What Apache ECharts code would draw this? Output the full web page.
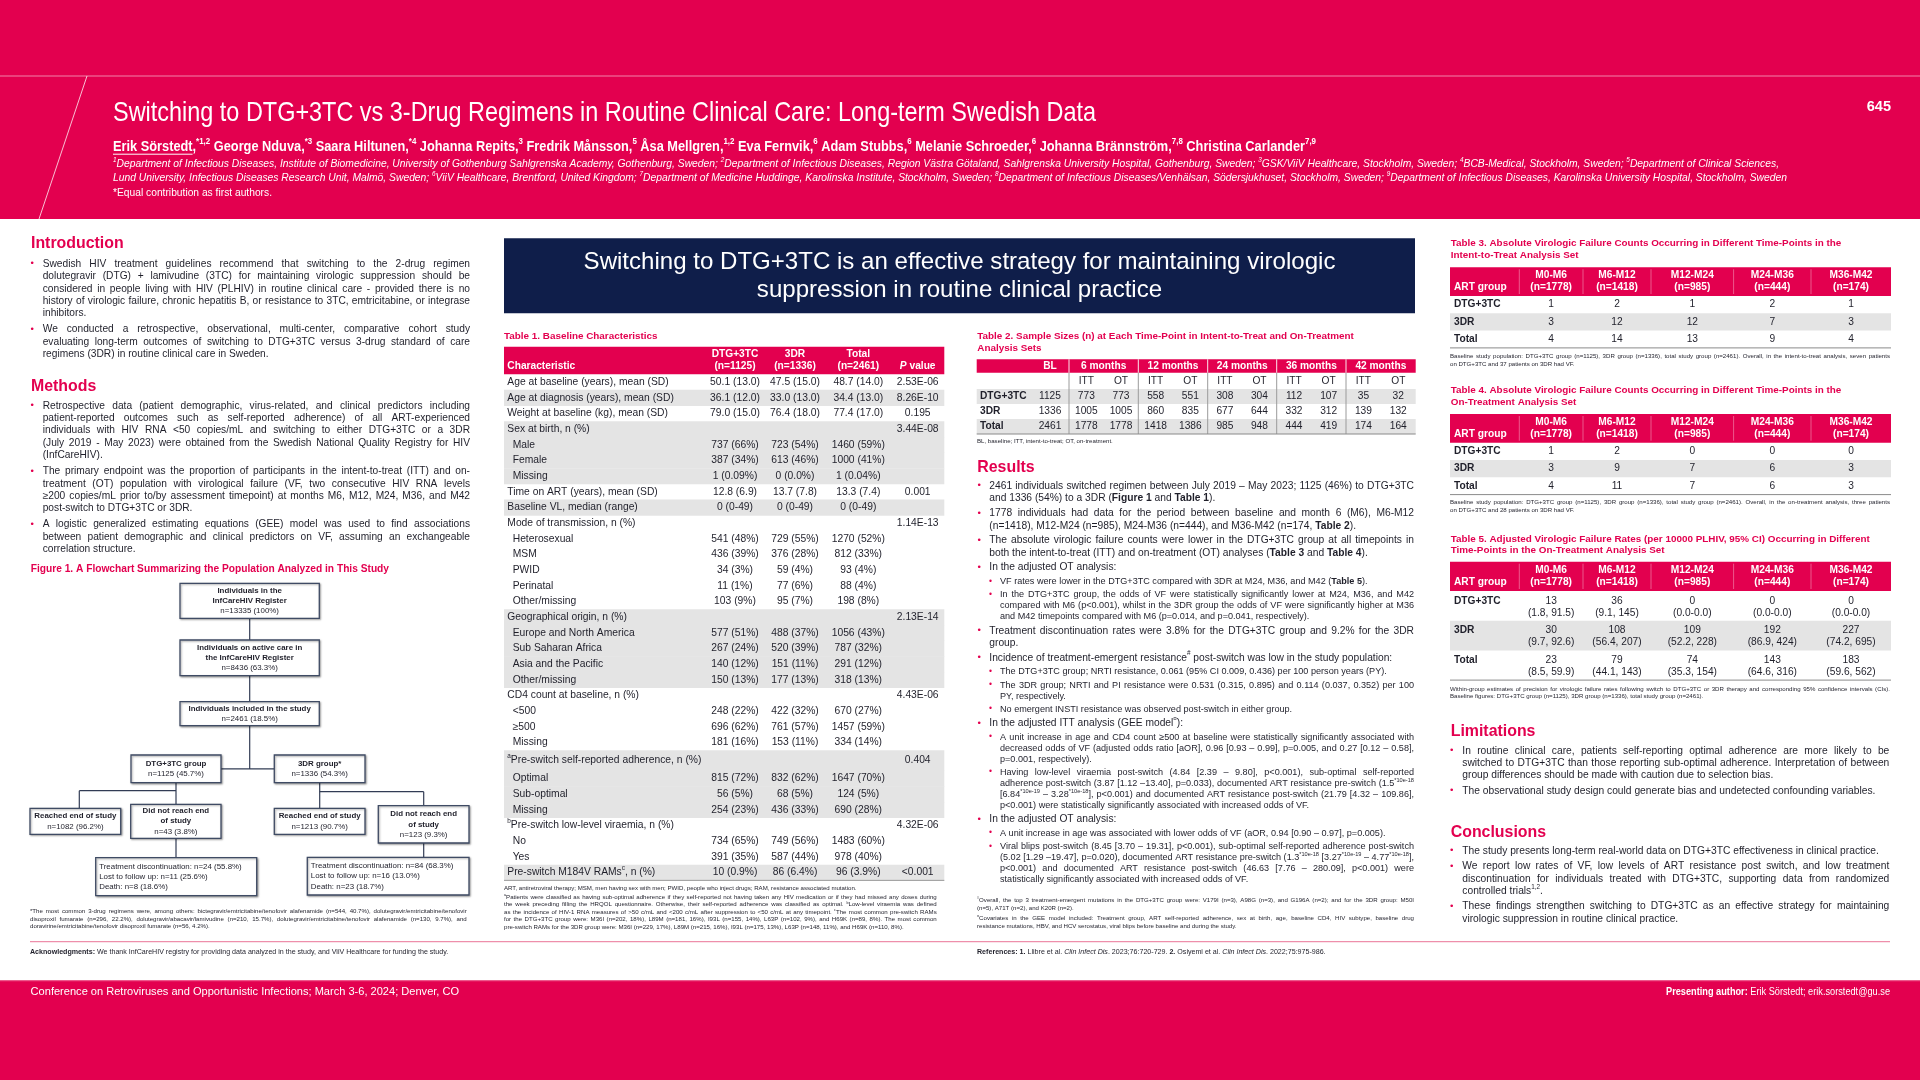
<!DOCTYPE html>
<html><head><meta charset="utf-8">
<script src="https://cdn.jsdelivr.net/npm/echarts@6/dist/echarts.min.js"></script>
<style>html,body{margin:0;padding:0;background:#fff;overflow:hidden}#c{width:1920px;height:1080px}</style>
</head><body><div id="c"></div>
<script>
// ===================== DATA =====================
const posterTitle = "Switching to DTG+3TC vs 3-Drug Regimens in Routine Clinical Care: Long-term Swedish Data";
const posterNumber = "645";
const firstAuthor = "Erik Sörstedt";
const authorsLine = "Erik Sörstedt,{sup|*1,2} George Nduva,{sup|*3} Saara Hiltunen,{sup|*4} Johanna Repits,{sup|3} Fredrik Månsson,{sup|5} Åsa Mellgren,{sup|1,2} Eva Fernvik,{sup|6} Adam Stubbs,{sup|6} Melanie Schroeder,{sup|6} Johanna Brännström,{sup|7,8} Christina Carlander{sup|7,9}";
const affiliationLines = [
  "{sup|1}Department of Infectious Diseases, Institute of Biomedicine, University of Gothenburg Sahlgrenska Academy, Gothenburg, Sweden; {sup|2}Department of Infectious Diseases, Region Västra Götaland, Sahlgrenska University Hospital, Gothenburg, Sweden; {sup|3}GSK/ViiV Healthcare, Stockholm, Sweden; {sup|4}BCB-Medical, Stockholm, Sweden; {sup|5}Department of Clinical Sciences,",
  "Lund University, Infectious Diseases Research Unit, Malmö, Sweden; {sup|6}ViiV Healthcare, Brentford, United Kingdom; {sup|7}Department of Medicine Huddinge, Karolinska Institute, Stockholm, Sweden; {sup|8}Department of Infectious Diseases/Venhälsan, Södersjukhuset, Stockholm, Sweden; {sup|9}Department of Infectious Diseases, Karolinska University Hospital, Stockholm, Sweden"
];
const equalNote = "*Equal contribution as first authors.";
const bannerLines = ["Switching to DTG+3TC is an effective strategy for maintaining virologic", "suppression in routine clinical practice"];

const introBullets = [
  ["Swedish HIV treatment guidelines recommend that switching to the 2-drug regimen",
   "dolutegravir (DTG) + lamivudine (3TC) for maintaining virologic suppression should be",
   "considered in people living with HIV (PLHIV) in routine clinical care - provided there is no",
   "history of virologic failure, chronic hepatitis B, or resistance to 3TC, emtricitabine, or integrase",
   "inhibitors."],
  ["We conducted a retrospective, observational, multi-center, comparative cohort study",
   "evaluating long-term outcomes of switching to DTG+3TC versus 3-drug standard of care",
   "regimens (3DR) in routine clinical care in Sweden."]
];
const methodsBullets = [
  ["Retrospective data (patient demographic, virus-related, and clinical predictors including",
   "patient-reported outcomes such as self-reported adherence) of all ART-experienced",
   "individuals with HIV RNA <50 copies/mL and switching to either DTG+3TC or a 3DR",
   "(July 2019 - May 2023) were obtained from the Swedish National Quality Registry for HIV",
   "(InfCareHIV)."],
  ["The primary endpoint was the proportion of participants in the intent-to-treat (ITT) and on-",
   "treatment (OT) population with virological failure (VF, two consecutive HIV RNA levels",
   "≥200 copies/mL prior to/by assessment timepoint) at months M6, M12, M24, M36, and M42",
   "post-switch to DTG+3TC or 3DR."],
  ["A logistic generalized estimating equations (GEE) model was used to find associations",
   "between patient demographic and clinical predictors on VF, assuming an exchangeable",
   "correlation structure."]
];
const figure1Caption = "Figure 1. A Flowchart Summarizing the Population Analyzed in This Study";
const flowTexts = {
  reg:   ["{b|Individuals in the}", "{b|InfCareHIV Register}", "n=13335 (100%)"],
  act:   ["{b|Individuals on active care in}", "{b|the InfCareHIV Register}", "n=8436 (63.3%)"],
  inc:   ["{b|Individuals included in the study}", "n=2461 (18.5%)"],
  dtg:   ["{b|DTG+3TC group}", "n=1125 (45.7%)"],
  tdr:   ["{b|3DR group*}", "n=1336 (54.3%)"],
  dtgEnd:["{b|Reached end of study}", "n=1082 (96.2%)"],
  dtgNot:["{b|Did not reach end}", "{b|of study}", "n=43 (3.8%)"],
  dtgWhy:["Treatment discontinuation: n=24 (55.8%)", "Lost to follow up: n=11 (25.6%)", "Death: n=8 (18.6%)"],
  tdrEnd:["{b|Reached end of study}", "n=1213 (90.7%)"],
  tdrNot:["{b|Did not reach end}", "{b|of study}", "n=123 (9.3%)"],
  tdrWhy:["Treatment discontinuation: n=84 (68.3%)", "Lost to follow up: n=16 (13.0%)", "Death: n=23 (18.7%)"]
};
const flowFootnote = [
  "*The most common 3-drug regimens were, among others: bictegravir/emtricitabine/tenofovir alafenamide (n=544, 40.7%), dolutegravir/emtricitabine/tenofovir",
  "disoproxil fumarate (n=296, 22.2%), dolutegravir/abacavir/lamivudine (n=210, 15.7%), dolutegravir/emtricitabine/tenofovir alafenamide (n=130, 9.7%), and",
  "doravirine/emtricitabine/tenofovir disoproxil fumarate (n=56, 4.2%)."
];
const acknowledgments = "{b|Acknowledgments:} We thank InfCareHIV registry for providing data analyzed in the study, and ViiV Healthcare for funding the study.";

// Table 1
const t1Title = "Table 1. Baseline Characteristics";
const t1Head = [["DTG+3TC", "(n=1125)"], ["3DR", "(n=1336)"], ["Total", "(n=2461)"]];
const t1Labels = [
  "Age at baseline (years), mean (SD)", "Age at diagnosis (years), mean (SD)", "Weight at baseline (kg), mean (SD)",
  "Sex at birth, n (%)", "Male", "Female", "Missing",
  "Time on ART (years), mean (SD)", "Baseline VL, median (range)",
  "Mode of transmission, n (%)", "Heterosexual", "MSM", "PWID", "Perinatal", "Other/missing",
  "Geographical origin, n (%)", "Europe and North America", "Sub Saharan Africa", "Asia and the Pacific", "Other/missing",
  "CD4 count at baseline, n (%)", "<500", "≥500", "Missing",
  "{sup|a}Pre-switch self-reported adherence, n (%)", "Optimal", "Sub-optimal", "Missing",
  "{sup|b}Pre-switch low-level viraemia, n (%)", "No", "Yes",
  "Pre-switch M184V RAMs{sup|c}, n (%)"
];
const t1Level = [0,0,0, 0,1,1,1, 0,0, 0,1,1,1,1,1, 0,1,1,1,1, 0,1,1,1, 0,1,1,1, 0,1,1, 0];
const t1DTG = ["50.1 (13.0)","36.1 (12.0)","79.0 (15.0)","","737 (66%)","387 (34%)","1 (0.09%)","12.8 (6.9)","0 (0-49)","","541 (48%)","436 (39%)","34 (3%)","11 (1%)","103 (9%)","","577 (51%)","267 (24%)","140 (12%)","150 (13%)","","248 (22%)","696 (62%)","181 (16%)","","815 (72%)","56 (5%)","254 (23%)","","734 (65%)","391 (35%)","10 (0.9%)"];
const t1TDR = ["47.5 (15.0)","33.0 (13.0)","76.4 (18.0)","","723 (54%)","613 (46%)","0 (0.0%)","13.7 (7.8)","0 (0-49)","","729 (55%)","376 (28%)","59 (4%)","77 (6%)","95 (7%)","","488 (37%)","520 (39%)","151 (11%)","177 (13%)","","422 (32%)","761 (57%)","153 (11%)","","832 (62%)","68 (5%)","436 (33%)","","749 (56%)","587 (44%)","86 (6.4%)"];
const t1Total = ["48.7 (14.0)","34.4 (13.0)","77.4 (17.0)","","1460 (59%)","1000 (41%)","1 (0.04%)","13.3 (7.4)","0 (0-49)","","1270 (52%)","812 (33%)","93 (4%)","88 (4%)","198 (8%)","","1056 (43%)","787 (32%)","291 (12%)","318 (13%)","","670 (27%)","1457 (59%)","334 (14%)","","1647 (70%)","124 (5%)","690 (28%)","","1483 (60%)","978 (40%)","96 (3.9%)"];
const t1P = ["2.53E-06","8.26E-10","0.195","3.44E-08","","","","0.001","","1.14E-13","","","","","","2.13E-14","","","","","4.43E-06","","","","0.404","","","","4.32E-06","","","<0.001"];
const t1Abbrev = "ART, antiretroviral therapy; MSM, men having sex with men; PWID, people who inject drugs; RAM, resistance associated mutation.";
const t1Notes = [
  "{sup|a}Patients were classified as having sub-optimal adherence if they self-reported not having taken any HIV medication or if they had missed any doses during",
  "the week preceding filling the HRQOL questionnaire. Otherwise, their self-reported adherence was classified as optimal. {sup|b}Low-level viraemia was defined",
  "as the incidence of HIV-1 RNA measures of >50 c/mL and <200 c/mL after suppression to <50 c/mL at any timepoint. {sup|c}The most common pre-switch RAMs",
  "for the DTG+3TC group were: M36I (n=202, 18%), L89M (n=181, 16%), I93L (n=155, 14%), L63P (n=102, 9%), and H69K (n=89, 8%). The most common",
  "pre-switch RAMs for the 3DR group were: M36I (n=229, 17%), L89M (n=215, 16%), I93L (n=175, 13%), L63P (n=148, 11%), and H69K (n=110, 8%)."
];

// Table 2
const t2TitleLines = ["Table 2. Sample Sizes (n) at Each Time-Point in Intent-to-Treat and On-Treatment", "Analysis Sets"];
const t2Groups = ["6 months","12 months","24 months","36 months","42 months"];
const t2Sub = ["ITT","OT"];
const artGroups = ["DTG+3TC","3DR","Total"];
const t2BL = [1125, 1336, 2461];
const t2ITT = [[773,558,308,112,35],[1005,860,677,332,139],[1778,1418,985,444,174]];
const t2OT  = [[773,551,304,107,32],[1005,835,644,312,132],[1778,1386,948,419,164]];
const t2Note = "BL, baseline; ITT, intent-to-treat; OT, on-treatment.";

// Results
const resultsItems = [
  {lines:["2461 individuals switched regimen between July 2019 – May 2023; 1125 (46%) to DTG+3TC","and 1336 (54%) to a 3DR ({b|Figure 1} and {b|Table 1})."]},
  {lines:["1778 individuals had data for the period between baseline and month 6 (M6), M6-M12","(n=1418), M12-M24 (n=985), M24-M36 (n=444), and M36-M42 (n=174, {b|Table 2})."]},
  {lines:["The absolute virologic failure counts were lower in the DTG+3TC group at all timepoints in","both the intent-to-treat (ITT) and on-treatment (OT) analyses ({b|Table 3} and {b|Table 4})."]},
  {lines:["In the adjusted OT analysis:"]},
  {sub:true, lines:["VF rates were lower in the DTG+3TC compared with 3DR at M24, M36, and M42 ({b|Table 5})."]},
  {sub:true, lines:["In the DTG+3TC group, the odds of VF were statistically significantly lower at M24, M36, and M42","compared with M6 (p<0.001), whilst in the 3DR group the odds of VF were significantly higher at M36","and M42 timepoints compared with M6 (p=0.014, and p=0.041, respectively)."]},
  {lines:["Treatment discontinuation rates were 3.8% for the DTG+3TC group and 9.2% for the 3DR","group."]},
  {lines:["Incidence of treatment-emergent resistance{sup|#} post-switch was low in the study population:"]},
  {sub:true, lines:["The DTG+3TC group; NRTI resistance, 0.061 (95% CI 0.009, 0.436) per 100 person years (PY)."]},
  {sub:true, lines:["The 3DR group; NRTI and PI resistance were 0.531 (0.315, 0.895) and 0.114 (0.037, 0.352) per 100","PY, respectively."]},
  {sub:true, lines:["No emergent INSTI resistance was observed post-switch in either group."]},
  {lines:["In the adjusted ITT analysis (GEE model{sup|¤}):"]},
  {sub:true, lines:["A unit increase in age and CD4 count ≥500 at baseline were statistically significantly associated with","decreased odds of VF (adjusted odds ratio [aOR], 0.96 [0.93 – 0.99], p=0.005, and 0.27 [0.12 – 0.58],","p=0.001, respectively)."]},
  {sub:true, lines:["Having low-level viraemia post-switch (4.84 [2.39 – 9.80], p<0.001), sub-optimal self-reported","adherence post-switch (3.87 [1.12 –13.40], p=0.033), documented ART resistance pre-switch (1.5{sup|*10e-18}","[6.84{sup|*10e-19} – 3.28{sup|*10e-18}], p<0.001) and documented ART resistance post-switch (21.79 [4.32 – 109.86],","p<0.001) were statistically significantly associated with increased odds of VF."]},
  {lines:["In the adjusted OT analysis:"]},
  {sub:true, lines:["A unit increase in age was associated with lower odds of VF (aOR, 0.94 [0.90 – 0.97], p=0.005)."]},
  {sub:true, lines:["Viral blips post-switch (8.45 [3.70 – 19.31], p<0.001), sub-optimal self-reported adherence post-switch","(5.02 [1.29 –19.47], p=0.020), documented ART resistance pre-switch (1.3{sup|*10e-18} [3.27{sup|*10e-19} – 4.77{sup|*10e-18}],","p<0.001) and documented ART resistance post-switch (46.63 [7.76 – 280.09], p<0.001) were","statistically significantly associated with increased odds of VF."]}
];
const resultsNotes = [
  ["{sup|#}Overall, the top 3 treatment-emergent mutations in the DTG+3TC group were: V179I (n=3), A98G (n=3), and G196A (n=2); and for the 3DR group: M50I","(n=5), A71T (n=2), and K20R (n=2)."],
  ["{sup|¤}Covariates in the GEE model included: Treatment group, ART self-reported adherence, sex at birth, age, baseline CD4, HIV subtype, baseline drug","resistance mutations, HBV, and HCV serostatus, viral blips before baseline and during the study."]
];
const references = "{b|References:} {b|1.} Llibre et al. {i|Clin Infect Dis}. 2023;76:720-729. {b|2.} Osiyemi et al. {i|Clin Infect Dis}. 2022;75:975-986.";

// Tables 3-5
const vfPeriods = ["M0-M6","M6-M12","M12-M24","M24-M36","M36-M42"];
const vfN = ["(n=1778)","(n=1418)","(n=985)","(n=444)","(n=174)"];
const t3Title = ["Table 3. Absolute Virologic Failure Counts Occurring in Different Time-Points in the","Intent-to-Treat Analysis Set"];
const t3Counts = [[1,2,1,2,1],[3,12,12,7,3],[4,14,13,9,4]];
const t3Note = ["Baseline study population: DTG+3TC group (n=1125), 3DR group (n=1336), total study group (n=2461). Overall, in the intent-to-treat analysis, seven patients","on DTG+3TC and 37 patients on 3DR had VF."];
const t4Title = ["Table 4. Absolute Virologic Failure Counts Occurring in Different Time-Points in the","On-Treatment Analysis Set"];
const t4Counts = [[1,2,0,0,0],[3,9,7,6,3],[4,11,7,6,3]];
const t4Note = ["Baseline study population: DTG+3TC group (n=1125), 3DR group (n=1336), total study group (n=2461). Overall, in the on-treatment analysis, three patients","on DTG+3TC and 28 patients on 3DR had VF."];
const t5Title = ["Table 5. Adjusted Virologic Failure Rates (per 10000 PLHIV, 95% CI) Occurring in Different","Time-Points in the On-Treatment Analysis Set"];
const t5Rates = [[13,36,0,0,0],[30,108,109,192,227],[23,79,74,143,183]];
const t5CI = [["(1.8, 91.5)","(9.1, 145)","(0.0-0.0)","(0.0-0.0)","(0.0-0.0)"],["(9.7, 92.6)","(56.4, 207)","(52.2, 228)","(86.9, 424)","(74.2, 695)"],["(8.5, 59.9)","(44.1, 143)","(35.3, 154)","(64.6, 316)","(59.6, 562)"]];
const t5Note = ["Within-group estimates of precision for virologic failure rates following switch to DTG+3TC or 3DR therapy and corresponding 95% confidence intervals (CIs).","Baseline figures: DTG+3TC group (n=1125), 3DR group (n=1336), total study group (n=2461)."];

const limitationsBullets = [
  ["In routine clinical care, patients self-reporting optimal adherence are more likely to be",
   "switched to DTG+3TC than those reporting sub-optimal adherence. Interpretation of between",
   "group differences should be made with caution due to selection bias."],
  ["The observational study design could generate bias and undetected confounding variables."]
];
const conclusionsBullets = [
  ["The study presents long-term real-world data on DTG+3TC effectiveness in clinical practice."],
  ["We report low rates of VF, low levels of ART resistance post switch, and low treatment",
   "discontinuation for individuals treated with DTG+3TC, supporting data from randomized",
   "controlled trials{sup|1,2}."],
  ["These findings strengthen switching to DTG+3TC as an effective strategy for maintaining",
   "virologic suppression in routine clinical practice."]
];
const footerLeft = "Conference on Retroviruses and Opportunistic Infections; March 3-6, 2024; Denver, CO";
const footerRight = "{b|Presenting author:} Erik Sörstedt; erik.sorstedt@gu.se";

// ===================== LAYOUT HELPERS =====================
const FAM = "'Liberation Sans', Arial, Helvetica, sans-serif";
const RED = '#E3004F', NAVY = '#0F1E4A', INK = '#1F1F2A', GRAY = '#E4E4E4', PINK = '#EE8FAB', BOX = '#3F4B64';
const TAGS = { b:{w:'bold'}, i:{s:'italic'}, bi:{w:'bold', s:'italic'}, sup:{sup:true} };
const ctx = document.createElement('canvas').getContext('2d');
const els = [];

function segs(str){
  const out = []; const re = /\{(\w+)\|([^}]*)\}/g; let last = 0, m;
  while ((m = re.exec(str))) {
    if (m.index > last) out.push({t: str.slice(last, m.index), tag: null});
    out.push({t: m[2], tag: m[1]}); last = re.lastIndex;
  }
  if (last < str.length) out.push({t: str.slice(last), tag: null});
  return out;
}
function fontOf(base, tag){
  let size = base.size, w = base.weight || 'normal', s = base.style || 'normal';
  const t = tag && TAGS[tag];
  if (t) { if (t.w) w = t.w; if (t.s) s = t.s; if (t.sup) size = size * 0.62; }
  return {size, w, s};
}
function mw(str, base){
  let tot = 0;
  segs(str).forEach(sg => { const f = fontOf(base, sg.tag); ctx.font = `${f.s} ${f.w} ${f.size}px ${FAM}`; tot += ctx.measureText(sg.t).width; });
  return tot;
}
function baseOf(o){ return {size: o.size, weight: o.weight || 'normal', style: o.style || 'normal'}; }
function txt(x, y, s, o){
  const base = baseOf(o);
  const fill = o.color || INK;
  const style = {text: s, fill, fontSize: base.size, fontWeight: base.weight, fontStyle: base.style, fontFamily: FAM,
                 textAlign: o.align || 'left', textVerticalAlign: 'middle'};
  if (/\{\w+\|/.test(s)) {
    const rich = {};
    for (const k in TAGS) {
      const f = fontOf(base, k);
      rich[k] = {fontSize: f.size, fontWeight: f.w, fontStyle: f.s, fontFamily: FAM, fill,
                 verticalAlign: TAGS[k].sup ? 'top' : 'middle', lineHeight: TAGS[k].sup ? f.size * 1.1 : base.size * 1.4};
    }
    style.rich = rich; style.lineHeight = base.size * 1.4;
  }
  const el = {type: 'text', silent: true, x, y, style};
  if (o.sx && Math.abs(o.sx - 1) > 0.001) el.scaleX = o.sx;
  els.push(el);
}
function rect(x, y, w, h, fill, extra){ els.push({type: 'rect', silent: true, shape: {x, y, width: w, height: h}, style: Object.assign({fill}, extra || {})}); }
function line(x1, y1, x2, y2, stroke, lw){ els.push({type: 'line', silent: true, shape: {x1, y1, x2, y2}, style: {stroke, lineWidth: lw || 1}}); }
function words(s){
  const out = []; let cur = '';
  segs(s).forEach(sg => {
    sg.t.split(' ').forEach((p, i) => {
      if (i > 0) { if (cur) out.push(cur); cur = ''; }
      if (p) cur += sg.tag ? `{${sg.tag}|${p}}` : p;
    });
  });
  if (cur) out.push(cur);
  return out;
}
function jline(x, y, W, s, o){
  const base = baseOf(o); const ws = words(s);
  if (ws.length < 2) { txt(x, y, s, o); return; }
  const wd = ws.map(w => mw(w, base));
  const tot = wd.reduce((a, b) => a + b, 0);
  const sp = mw(' ', base);
  const gap = (W - tot) / (ws.length - 1);
  if (gap < sp * 0.6) { txt(x, y, s, Object.assign({}, o, {sx: W / mw(s, base)})); return; }
  let cx = x;
  ws.forEach((w, i) => { txt(cx, y, w, o); cx += wd[i] + gap; });
}
function plainLine(x, y, W, s, o){
  const w = mw(s, baseOf(o));
  txt(x, y, s, w > W ? Object.assign({}, o, {sx: W / w}) : o);
}
function para(x, y, W, lines, o){
  lines.forEach((ln, i) => { const yy = y + i * o.lh; if (i < lines.length - 1) jline(x, yy, W, ln, o); else plainLine(x, yy, W, ln, o); });
  return y + (lines.length - 1) * o.lh;
}
function bulletList(items, cfg){
  let y = cfg.y, prevLh = null;
  items.forEach(it => {
    const st = it.sub ? cfg.sub : cfg.main;
    if (prevLh !== null) y += (prevLh + st.lh) / 2 + cfg.gap;
    txt(st.bx, y - 0.3, '•', {size: st.size * 0.95, color: RED});
    y = para(st.tx, y, cfg.right - st.tx, it.lines, st);
    prevLh = st.lh;
  });
}
function fitSize(s, o, W){ return 10 * W / mw(s, {size: 10, weight: o.weight || 'normal', style: o.style || 'normal'}); }
// condensed text: keep font size (height) and squeeze horizontally to the target width
function narrowTxt(x, y, s, o, W){ const w = mw(s, baseOf(o)); txt(x, y, s, Object.assign({}, o, {sx: W / w})); return W / w; }
function heading(x, y, s){ txt(x, y, s, {size: 15.9, weight: 'bold', color: RED}); }

// ===================== HEADER =====================
rect(0, 0, 1920, 219, RED);
line(0, 76, 1920, 76, 'rgba(255,255,255,0.35)', 1.5);
line(87, 76, 39, 219, 'rgba(255,255,255,0.75)', 1);
(function(){
  narrowTxt(113, 113.5, posterTitle, {size: 28.5, color: '#fff'}, 983);
  txt(1891, 107, posterNumber, {size: 14.5, weight: 'bold', color: '#fff', align: 'right'});
  const ao = {size: 13.8, weight: 'bold', color: '#fff'};
  const sx = narrowTxt(113, 147, authorsLine, ao, 1203);
  const uw = mw(firstAuthor, baseOf(ao)) * sx;
  line(113, 147 + 7.2, 113 + uw, 147 + 7.2, '#fff', 1);
  const fw = [1666, 1674], fy = [164, 178];
  affiliationLines.forEach((l, i) => narrowTxt(113, fy[i], l, {size: 10.8, style: 'italic', color: '#fff'}, fw[i]));
  narrowTxt(113, 192.5, equalNote, {size: 11.5, color: '#fff'}, 159);
})();

// ===================== LEFT COLUMN =====================
heading(31, 244, 'Introduction');
bulletList(introBullets.map(l => ({lines: l})), {y: 264, gap: 3.6, right: 470,
  main: {size: 10.2, lh: 12.4, bx: 30.5, tx: 42.7}});
heading(31, 386.7, 'Methods');
bulletList(methodsBullets.map(l => ({lines: l})), {y: 405.7, gap: 3.6, right: 470,
  main: {size: 10.2, lh: 12.4, bx: 30.5, tx: 42.7}});
txt(30.7, 569, figure1Caption, {size: 10.2, weight: 'bold', color: RED});

// Flowchart
(function(){
  const boxStyle = {stroke: BOX, lineWidth: 1.3, shadowBlur: 2, shadowColor: 'rgba(0,0,0,0.35)', shadowOffsetX: 1, shadowOffsetY: 1};
  const fo = {size: 7.9};
  function box(x1, y1, x2, y2, lines, leftAlign){
    rect(x1, y1, x2 - x1, y2 - y1, '#fff', boxStyle);
    const cy = (y1 + y2) / 2, lh = 10.3;
    lines.forEach((l, i) => {
      const yy = cy + (i - (lines.length - 1) / 2) * lh;
      if (leftAlign) txt(x1 + 3.5, yy, l, fo); else txt((x1 + x2) / 2, yy, l, Object.assign({align: 'center'}, fo));
    });
  }
  const C = 'rgba(50,60,85,1)';
  line(249.7, 618.3, 249.7, 640, C, 1.2);
  line(249.7, 675.7, 249.7, 701.7, C, 1.2);
  line(249.7, 725.7, 249.7, 768.9, C, 1.2);
  line(221, 768.9, 274.3, 768.9, C, 1.2);
  line(176, 782.7, 176, 804.3, C, 1.2);
  line(79.3, 790.7, 176, 790.7, C, 1.2);
  line(79.3, 790.7, 79.3, 808.3, C, 1.2);
  line(176, 838.3, 176, 857.7, C, 1.2);
  line(319.7, 782.7, 319.7, 808.3, C, 1.2);
  line(319.7, 791.7, 423.7, 791.7, C, 1.2);
  line(423.7, 791.7, 423.7, 805.7, C, 1.2);
  line(423.7, 843, 423.7, 857.3, C, 1.2);
  box(180, 583.3, 319.3, 618.3, flowTexts.reg);
  box(180, 640, 319.3, 675.7, flowTexts.act);
  box(180, 701.7, 319.3, 725.7, flowTexts.inc);
  box(131, 755, 221, 782.7, flowTexts.dtg);
  box(274.3, 755, 365, 782.7, flowTexts.tdr);
  box(30, 808.3, 120.7, 834.3, flowTexts.dtgEnd);
  box(130.7, 804.3, 221, 838.3, flowTexts.dtgNot);
  box(95.7, 857.7, 256.7, 895.7, flowTexts.dtgWhy, true);
  box(274.3, 808.3, 365, 834.3, flowTexts.tdrEnd);
  box(378.3, 805.7, 469, 843, flowTexts.tdrNot);
  box(307.3, 857.3, 469, 895, flowTexts.tdrWhy, true);
})();
para(30, 911.7, 436.7, flowFootnote, {size: 6.1, lh: 7.5});
line(30, 941.7, 1890, 941.7, PINK, 1.2);
plainLine(30, 951.7, 440, acknowledgments, {size: 7.1});

// ===================== BANNER =====================
rect(504, 238.3, 911, 75, NAVY);
(function(){
  const bs = fitSize(bannerLines[0], {}, 752.3);
  txt(959.5, 262.7, bannerLines[0], {size: bs, color: '#fff', align: 'center'});
  txt(959.5, 290.7, bannerLines[1], {size: bs, color: '#fff', align: 'center'});
})();

// ===================== TABLE 1 =====================
(function(){
  const X0 = 504, W = 440.3, colX = [735, 795, 858.3], pX = 917.7, TALL_ROW = 24;
  txt(X0, 336, t1Title, {size: 9.9, weight: 'bold', color: RED});
  rect(X0, 346.7, W, 27.5, RED);
  const hw = {size: 10.2, weight: 'bold', color: '#fff'};
  txt(507.3, 365.7, 'Characteristic', hw);
  t1Head.forEach((h, i) => { txt(colX[i], 354, h[0], Object.assign({align: 'center'}, hw)); txt(colX[i], 365.7, h[1], Object.assign({align: 'center'}, hw)); });
  txt(pX, 365.7, '{i|P} value', Object.assign({align: 'center'}, hw));
  let yTop = 374.2, grp = -1;
  const vo = {size: 10.3, align: 'center'};
  t1Labels.forEach((lab, i) => {
    const h = i === TALL_ROW ? 20.4 : 15.67;
    if (t1Level[i] === 0) grp++;
    if (grp % 2 === 1) rect(X0, yTop, W, h + 0.4, GRAY);
    const cy = yTop + h / 2;
    txt(t1Level[i] ? 512.7 : 507.3, cy, lab, {size: 10.3});
    if (t1DTG[i]) txt(colX[0], cy, t1DTG[i], vo);
    if (t1TDR[i]) txt(colX[1], cy, t1TDR[i], vo);
    if (t1Total[i]) txt(colX[2], cy, t1Total[i], vo);
    if (t1P[i]) txt(pX, cy, t1P[i], vo);
    yTop += h;
  });
  line(X0, yTop, X0 + W, yTop, '#9a9a9a', 1);
  plainLine(X0, 888.3, 435, t1Abbrev, {size: 6.1});
  para(X0, 897.3, 432.7, t1Notes, {size: 6.1, lh: 7.5});
})();

// ===================== TABLE 2 =====================
(function(){
  const X0 = 976.7, X1 = 1415.7, seps = [1069, 1138.3, 1207.7, 1276.7, 1346, 1415.7], blX = 1050;
  t2TitleLines.forEach((l, i) => txt(977.3, 336 + i * 12.3, l, {size: 9.9, weight: 'bold', color: RED}));
  rect(X0, 359.3, X1 - X0, 13.4, RED);
  const hw = {size: 10.2, weight: 'bold', color: '#fff', align: 'center'};
  txt(blX, 366.3, 'BL', hw);
  const rowTops = [389, 404, 419], rowH = 15;
  rowTops.forEach((t, r) => { if (r !== 1) rect(X0, t, X1 - X0, rowH, GRAY); });
  t2Groups.forEach((g, k) => {
    const a = seps[k], b = seps[k + 1];
    txt((a + b) / 2, 366.3, g, hw);
    const itX = a + (b - a) * 0.25, otX = a + (b - a) * 0.75;
    txt(itX, 381, t2Sub[0], {size: 10.2, align: 'center'});
    txt(otX, 381, t2Sub[1], {size: 10.2, align: 'center'});
    artGroups.forEach((g2, r) => {
      const cy = rowTops[r] + rowH / 2;
      txt(itX, cy, String(t2ITT[r][k]), {size: 10.2, align: 'center'});
      txt(otX, cy, String(t2OT[r][k]), {size: 10.2, align: 'center'});
    });
  });
  artGroups.forEach((g, r) => {
    const cy = rowTops[r] + rowH / 2;
    txt(980, cy, g, {size: 10.2, weight: 'bold'});
    txt(blX, cy, String(t2BL[r]), {size: 10.2, align: 'center'});
  });
  seps.slice(0, 5).forEach(x => { line(x, 359.3, x, 372.7, 'rgba(255,255,255,0.9)', 1); line(x, 372.7, x, 434, '#9a9a9a', 1); });
  line(X0, 434, X1, 434, '#8a8a8a', 1);
  txt(977, 441, t2Note, {size: 6.1});
})();

// ===================== RESULTS =====================
heading(977.3, 467.7, 'Results');
bulletList(resultsItems, {y: 486, gap: 2.2, right: 1414,
  main: {size: 10.25, lh: 12.5, bx: 977.5, tx: 989.3},
  sub: {size: 9.1, lh: 11, bx: 989, tx: 1000}});
para(977, 900.7, 437, resultsNotes[0], {size: 6.1, lh: 7.6});
para(977, 918.3, 437, resultsNotes[1], {size: 6.1, lh: 7.6});
plainLine(977, 951.7, 440, references, {size: 7.1});

// ===================== TABLES 3-5 =====================
function vfTable(cfg){
  const X0 = 1450, X1 = 1891, bounds = [1450, 1519.3, 1583, 1651, 1733.6, 1811, 1891];
  cfg.title.forEach((l, i) => txt(1450.7, cfg.titleY + i * 11.7, l, {size: 9.9, weight: 'bold', color: RED}));
  rect(X0, cfg.headTop, X1 - X0, cfg.headH, RED);
  bounds.slice(1, 6).forEach(x => line(x, cfg.headTop + 2, x, cfg.headTop + cfg.headH - 2, 'rgba(255,255,255,0.35)', 1));
  const hw = {size: 10.2, weight: 'bold', color: '#fff'};
  txt(1454, cfg.headTop + cfg.headH * 0.71, 'ART group', hw);
  vfPeriods.forEach((p, k) => {
    const cx = (bounds[k + 1] + bounds[k + 2]) / 2;
    txt(cx, cfg.headTop + cfg.headH * 0.28, p, Object.assign({align: 'center'}, hw));
    txt(cx, cfg.headTop + cfg.headH * 0.71, vfN[k], Object.assign({align: 'center'}, hw));
  });
  let top = cfg.headTop + cfg.headH;
  artGroups.forEach((g, r) => {
    if (r === 1) rect(X0, top, X1 - X0, cfg.rowH, GRAY);
    const y1 = cfg.ci ? top + 9.7 : top + cfg.rowH / 2;
    txt(1454, y1, g, {size: 10.2, weight: 'bold'});
    vfPeriods.forEach((p, k) => {
      const cx = (bounds[k + 1] + bounds[k + 2]) / 2;
      txt(cx, y1, String(cfg.values[r][k]), {size: 10.2, align: 'center'});
      if (cfg.ci) txt(cx, top + 21.7, cfg.ci[r][k], {size: 10.2, align: 'center'});
    });
    top += cfg.rowH;
  });
  line(X0, top, X1, top, '#8a8a8a', 1);
  para(1450, cfg.noteY, 440, cfg.note, {size: 6.1, lh: 7.6});
}
vfTable({title: t3Title, titleY: 243.3, headTop: 267.3, headH: 28.7, rowH: 17.3, values: t3Counts, note: t3Note, noteY: 356.7});
vfTable({title: t4Title, titleY: 390.7, headTop: 414, headH: 28.7, rowH: 17.3, values: t4Counts, note: t4Note, noteY: 502.7});
vfTable({title: t5Title, titleY: 539, headTop: 561.7, headH: 29.3, rowH: 29.7, values: t5Rates, ci: t5CI, note: t5Note, noteY: 689});

heading(1450.7, 731.7, 'Limitations');
bulletList(limitationsBullets.map(l => ({lines: l})), {y: 751, gap: 3.2, right: 1889.3,
  main: {size: 10.25, lh: 12.3, bx: 1450, tx: 1462.3}});
heading(1450.7, 832.3, 'Conclusions');
bulletList(conclusionsBullets.map(l => ({lines: l})), {y: 851, gap: 3.2, right: 1889.3,
  main: {size: 10.25, lh: 12.3, bx: 1450, tx: 1462.3}});

// ===================== FOOTER =====================
rect(0, 980, 1920, 100, RED);
line(0, 980.5, 1920, 980.5, 'rgba(255,255,255,0.35)', 1.5);
narrowTxt(30.6, 992, footerLeft, {size: 11.5, color: '#fff'}, 428.5);
(function(){
  const o = {size: 11, color: '#fff', align: 'right'};
  const w = mw(footerRight, baseOf(o));
  txt(1890, 992, footerRight, Object.assign({}, o, {sx: 224 / w}));
})();

// ===================== RENDER =====================
const chart = echarts.init(document.getElementById('c'), null, {renderer: 'canvas', width: 1920, height: 1080});
chart.setOption({animation: false, backgroundColor: '#ffffff', graphic: {elements: els}});
</script>
</body></html>
